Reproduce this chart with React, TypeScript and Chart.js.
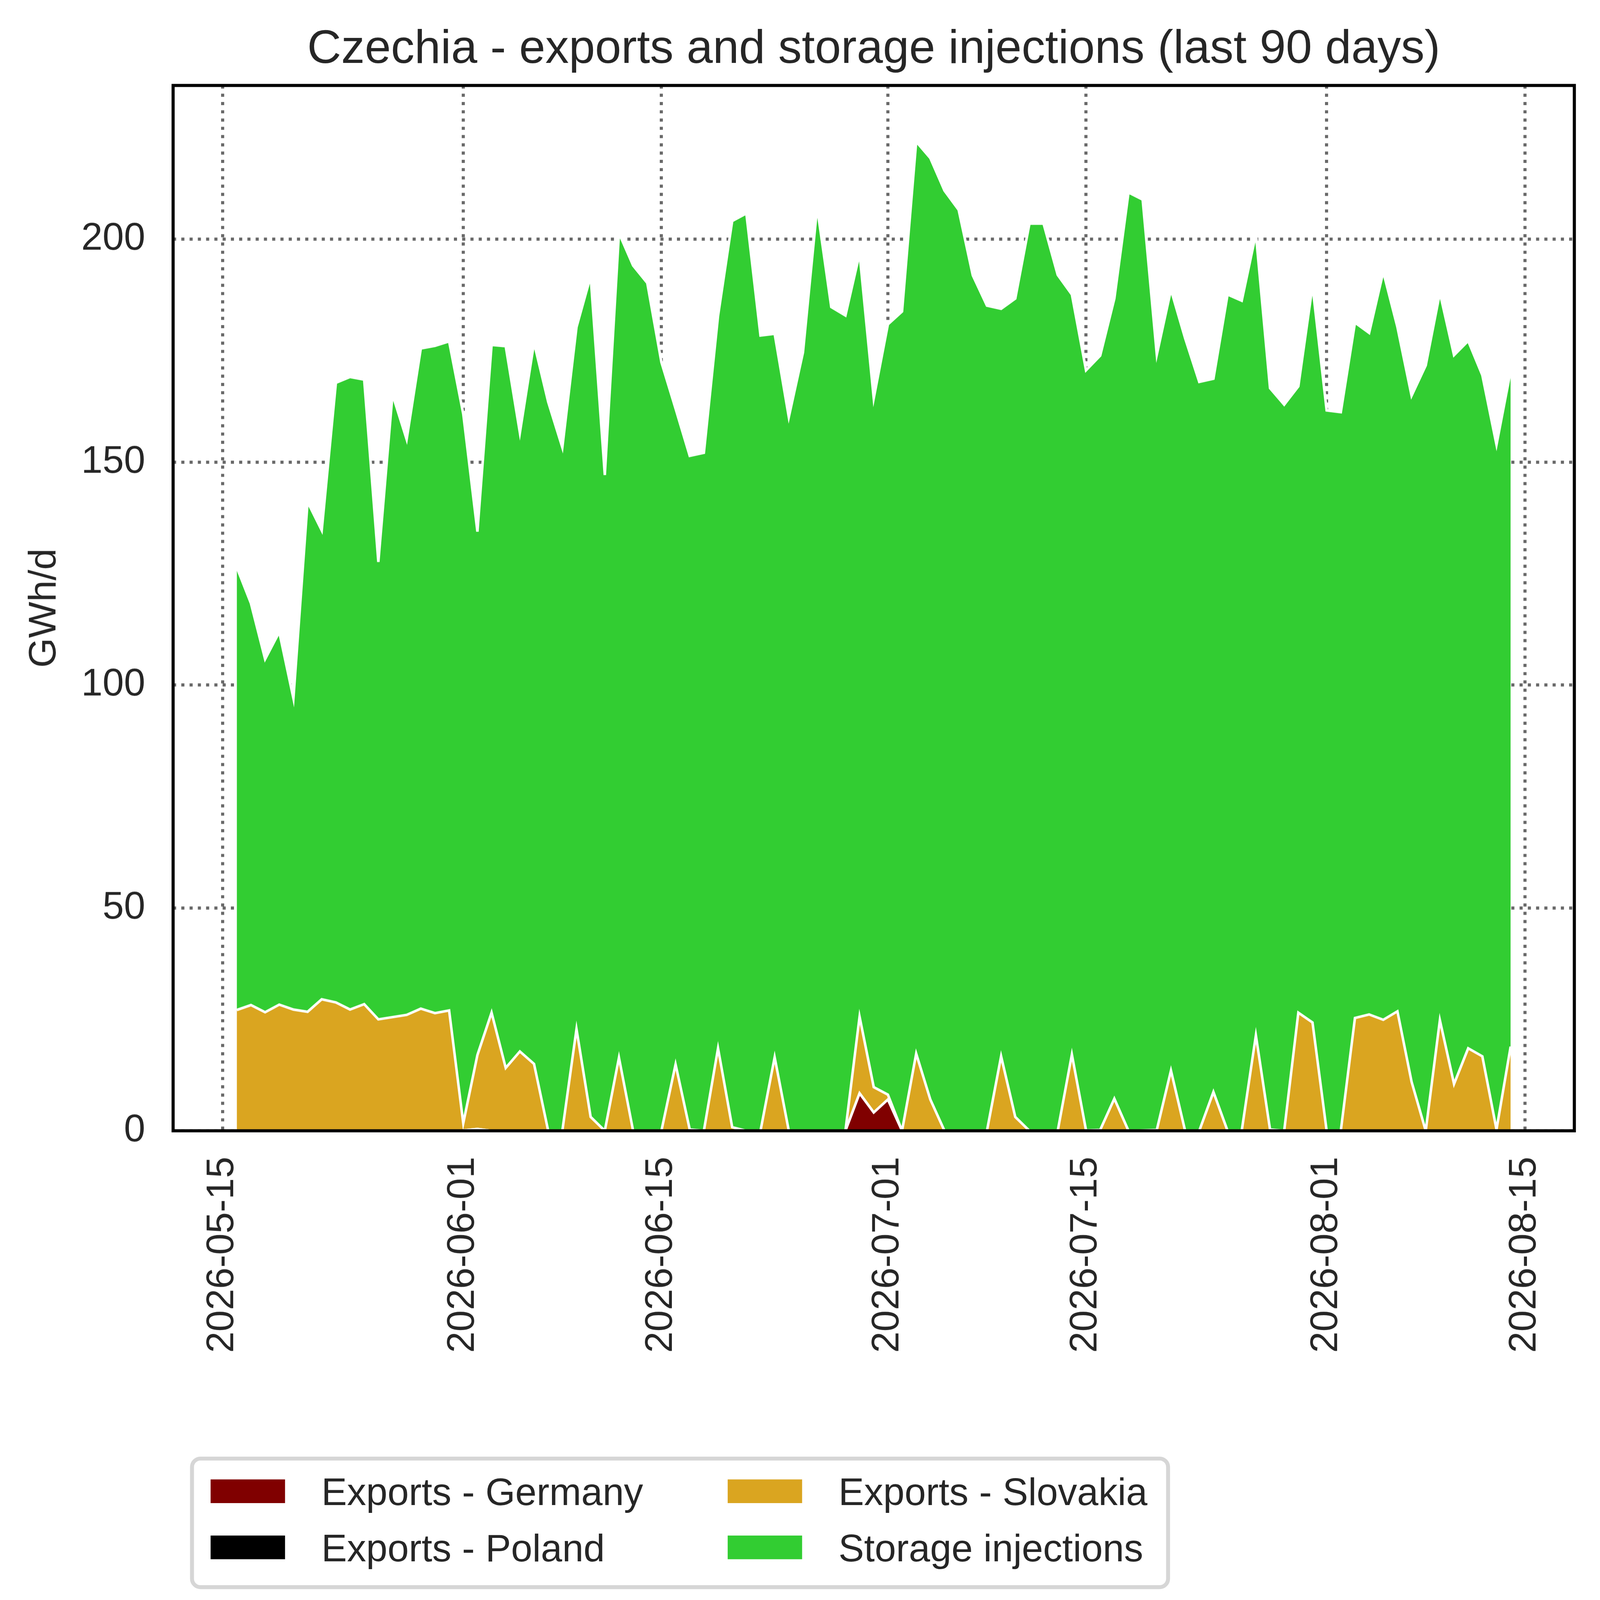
import React, { useRef, useEffect } from "react";
import Chart from "chart.js/auto";

// first day of the series, one value per day
const START_DATE = "2026-05-16";

const X_TICK_LABELS = [
  "2026-05-15",
  "2026-06-01",
  "2026-06-15",
  "2026-07-01",
  "2026-07-15",
  "2026-08-01",
  "2026-08-15",
];
const Y_TICKS = [0, 50, 100, 150, 200];
const Y_MAX = 234.5;

const EXPORTS_GERMANY = [
  0, 0, 0, 0, 0, 0, 0, 0, 0, 0,
  0, 0, 0, 0, 0, 0, 0.1, 0.4, 0, 0,
  0, 0, 0, 0, 0, 0, 0, 0, 0, 0,
  0, 0, 0, 0, 0, 0, 0, 0, 0, 0,
  0, 0, 0, 0, 8.4, 4.1, 7.0, 0, 0, 0,
  0, 0, 0, 0, 0, 0, 0, 0, 0, 0,
  0, 0, 0, 0, 0, 0, 0, 0, 0, 0,
  0, 0, 0, 0, 0, 0, 0, 0, 0, 0,
  0, 0, 0, 0, 0, 0, 0, 0, 0, 0,
  0,
];

const EXPORTS_POLAND = [
  0, 0, 0, 0, 0, 0, 0, 0, 0, 0,
  0, 0, 0, 0, 0, 0, 0, 0, 0, 0,
  0, 0, 0, 0, 0, 0, 0, 0, 0, 0,
  0, 0, 0, 0, 0, 0, 0, 0, 0, 0,
  0, 0, 0, 0, 0, 0, 0, 0, 0, 0,
  0, 0, 0, 0, 0, 0, 0, 0, 0, 0,
  0, 0, 0, 0, 0, 0, 0, 0, 0, 0,
  0, 0, 0, 0, 0, 0, 0, 0, 0, 0,
  0, 0, 0, 0, 0, 0, 0, 0, 0, 0,
  0,
];

const EXPORTS_SLOVAKIA = [
  27.1, 28.2, 26.6, 28.3, 27.2, 26.7, 29.5, 28.8, 27.2, 28.4,
  25.0, 25.5, 26.0, 27.4, 26.4, 27.0, 1.6, 16.6, 26.5, 14.1,
  17.8, 15.0, 0, 0, 22.8, 3.1, 0, 16.4, 0, 0,
  0, 14.9, 0.3, 0, 18.5, 0.8, 0, 0, 16.5, 0,
  0, 0, 0, 0, 17.2, 5.7, 1.1, 0, 17.3, 7.0,
  0, 0, 0, 0, 16.7, 3.1, 0, 0, 0, 17.1,
  0.1, 0.2, 7.2, 0, 0.1, 0.2, 13.5, 0, 0, 8.7,
  0, 0, 21.4, 0.3, 0, 26.5, 24.3, 0, 0, 25.3,
  26.1, 24.9, 26.8, 11.0, 0, 24.8, 10.5, 18.5, 16.7, 0.3,
  18.9,
];

const STORAGE_INJECTIONS = [
  99.3, 90.1, 79.2, 83.6, 69.8, 114.4, 105.2, 139.0, 141.9, 140.1,
  102.6, 139.7, 129.1, 148.1, 149.7, 150.1, 159.1, 117.4, 149.8, 161.9,
  138.8, 161.8, 163.5, 153.3, 157.5, 188.6, 147.1, 185.0, 194.1, 190.2,
  172.4, 147.1, 151.1, 152.1, 164.3, 203.3, 205.8, 178.4, 162.3, 160.1,
  174.6, 207.2, 184.8, 182.9, 171.2, 154.5, 172.8, 183.8, 204.6, 211.2,
  210.9, 206.6, 191.9, 185.1, 167.7, 183.6, 203.5, 203.5, 192.0, 170.5,
  170.5, 173.7, 179.5, 210.5, 208.8, 173.9, 175.2, 177.8, 168.0, 160.0,
  187.6, 186.2, 179.8, 166.3, 162.9, 140.5, 165.3, 161.6, 161.2, 156.0,
  152.9, 167.8, 153.5, 153.9, 171.7, 163.2, 163.5, 158.7, 152.8, 153.6,
  151.6,
];

const SERIES = [
  { label: "Exports - Germany", values: EXPORTS_GERMANY, color: "#800000" },
  { label: "Exports - Poland", values: EXPORTS_POLAND, color: "#000000" },
  { label: "Exports - Slovakia", values: EXPORTS_SLOVAKIA, color: "#DAA520" },
  { label: "Storage injections", values: STORAGE_INJECTIONS, color: "#32CD32" },
];

const TITLE = "Czechia - exports and storage injections (last 90 days)";
const Y_LABEL = "GWh/d";

// reference picture size in device pixels
const WIDTH = 5675;
const HEIGHT = 5722;
const FONT = "'Liberation Sans', Arial, sans-serif";
const TEXT = "#262626";
const GRID = "#696969";

const DAY_MS = 86400000;
const dayOffset = (d: string) =>
  Math.round((Date.parse(d) - Date.parse(START_DATE)) / DAY_MS);
const X_TICK_POS = X_TICK_LABELS.map(dayOffset);

// matplotlib-like 5% margins on the x range
const SPAN = STORAGE_INJECTIONS.length - 1;
const X_MIN = -0.05 * SPAN;
const X_MAX = SPAN + 0.05 * SPAN;

const makeDecor = (k: number) => ({
  id: "decor",
  afterDraw(chart: any) {
    const { ctx, chartArea: a } = chart;
    ctx.save();

    // axes frame
    ctx.strokeStyle = "#000000";
    ctx.lineWidth = 11 * k;
    ctx.strokeRect(a.left, a.top, a.right - a.left, a.bottom - a.top);

    // title
    ctx.fillStyle = TEXT;
    ctx.font = `${167 * k}px ${FONT}`;
    ctx.textAlign = "center";
    ctx.textBaseline = "alphabetic";
    ctx.fillText(TITLE, (a.left + a.right) / 2, 223 * k);

    // y axis label
    ctx.save();
    ctx.translate(159 * k, (a.top + a.bottom) / 2);
    ctx.rotate(-Math.PI / 2);
    ctx.font = `${136 * k}px ${FONT}`;
    ctx.textAlign = "center";
    ctx.textBaseline = "middle";
    ctx.fillText(Y_LABEL, 0, 0);
    ctx.restore();

    // legend, two columns filled top to bottom
    ctx.beginPath();
    ctx.roundRect(681 * k, 5172 * k, 3462 * k, 456 * k, 30 * k);
    ctx.fillStyle = "#ffffff";
    ctx.fill();
    ctx.strokeStyle = "#d6d6d6";
    ctx.lineWidth = 14 * k;
    ctx.stroke();

    const colX = [747, 2581];
    const rowY = [5288, 5487];
    ctx.font = `${136 * k}px ${FONT}`;
    ctx.textAlign = "left";
    ctx.textBaseline = "alphabetic";
    chart.data.datasets.forEach((ds: any, i: number) => {
      const x = colX[Math.floor(i / 2)] * k;
      const y = rowY[i % 2] * k;
      ctx.fillStyle = ds.backgroundColor;
      ctx.fillRect(x, y - 42 * k, 264 * k, 84 * k);
      ctx.fillStyle = TEXT;
      ctx.fillText(ds.label, x + 393 * k, y + 49 * k);
    });

    ctx.restore();
  },
});

const App = () => {
  const chartRef = useRef<HTMLCanvasElement>(null);
  const chartInstanceRef = useRef<Chart | null>(null);

  useEffect(() => {
    const canvas = chartRef.current;
    if (!canvas) return;

    // CSS pixels per reference pixel
    const k = window.innerWidth / WIDTH;
    const cssW = WIDTH * k;
    const cssH = HEIGHT * k;
    canvas.style.width = `${cssW}px`;
    canvas.style.height = `${cssH}px`;
    canvas.width = cssW;
    canvas.height = cssH;

    const ctx = canvas.getContext("2d");
    if (!ctx) return;

    if (chartInstanceRef.current) {
      chartInstanceRef.current.destroy();
    }

    const tickFont = { family: FONT, size: 136 * k };
    const gridOpts = { color: GRID, lineWidth: 11 * k, drawTicks: false };
    const borderOpts = { display: false, dash: [11 * k, 18.3 * k] };

    chartInstanceRef.current = new Chart(ctx, {
      type: "line",
      data: {
        datasets: SERIES.map((s, i) => ({
          label: s.label,
          data: s.values.map((y, j) => ({ x: j, y })),
          backgroundColor: s.color,
          borderColor: "#ffffff",
          borderWidth: 9 * k,
          fill: i === 0 ? "origin" : "-1",
          pointRadius: 0,
          tension: 0,
        })),
      },
      options: {
        responsive: false,
        maintainAspectRatio: false,
        animation: false,
        layout: {
          padding: { left: 0, right: 91 * k, top: 303 * k, bottom: 0 },
        },
        plugins: {
          legend: { display: false },
          tooltip: { enabled: false },
          title: { display: false },
        },
        scales: {
          x: {
            type: "linear",
            min: X_MIN,
            max: X_MAX,
            afterBuildTicks: (scale: any) => {
              scale.ticks = X_TICK_POS.map((v) => ({ value: v }));
            },
            afterFit: (scale: any) => {
              scale.height = 1711 * k;
            },
            ticks: {
              autoSkip: false,
              minRotation: 90,
              maxRotation: 90,
              padding: 92 * k,
              color: TEXT,
              font: tickFont,
              callback: (_v: any, i: number) => X_TICK_LABELS[i],
            },
            grid: gridOpts,
            border: borderOpts,
          },
          y: {
            stacked: true,
            min: 0,
            max: Y_MAX,
            afterBuildTicks: (scale: any) => {
              scale.ticks = Y_TICKS.map((v) => ({ value: v }));
            },
            afterFit: (scale: any) => {
              scale.width = 614 * k;
            },
            ticks: {
              padding: 99 * k,
              color: TEXT,
              font: tickFont,
              callback: (v: any) => String(v),
            },
            grid: gridOpts,
            border: borderOpts,
          },
        },
      },
      plugins: [makeDecor(k)],
    });

    return () => {
      if (chartInstanceRef.current) {
        chartInstanceRef.current.destroy();
        chartInstanceRef.current = null;
      }
    };
  }, []);

  return (
    <div
      style={{
        position: "absolute",
        left: 0,
        top: 0,
        background: "#ffffff",
      }}
    >
      <canvas ref={chartRef} style={{ display: "block" }} />
    </div>
  );
};

export default App;
